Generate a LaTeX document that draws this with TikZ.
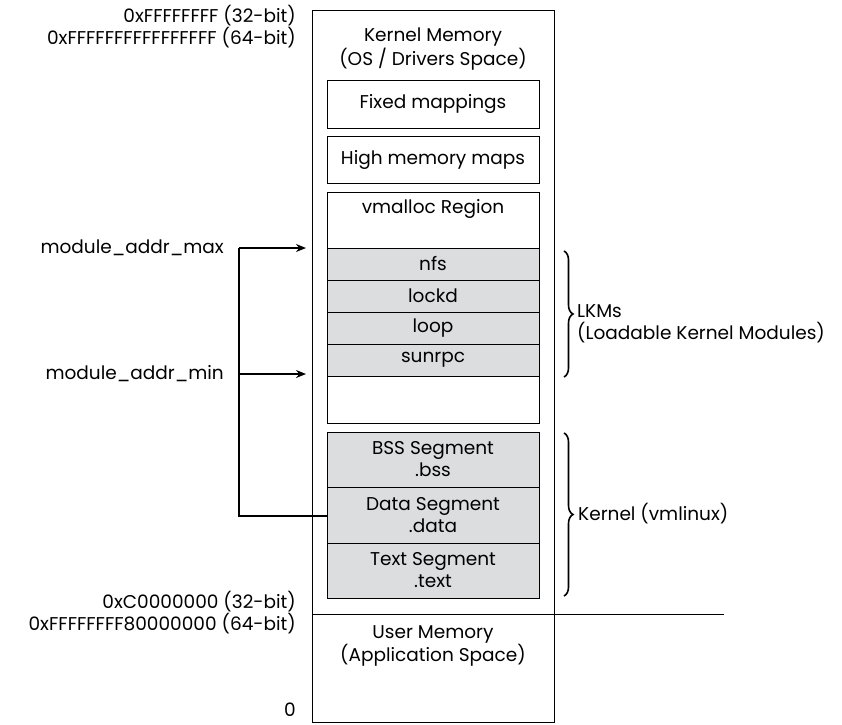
\documentclass[tikz,border=0pt]{standalone}
\usepackage{fontspec}
\setmainfont{Poppins}
\usetikzlibrary{arrows.meta,decorations.pathreplacing}
\definecolor{segfill}{RGB}{220,221,222}
\begin{document}
\begin{tikzpicture}[x=1pt,y=-1pt,
  font=\fontsize{18.5}{22}\selectfont,
  box/.style={draw, line width=0.9pt, anchor=north west, inner sep=0pt, outer sep=0pt},
  seg/.style={box, fill=segfill, minimum width=212pt, align=center},
  lbl/.style={anchor=east, inner sep=0pt, align=right},
  ptr/.style={line width=1.6pt, -{Stealth[length=10pt,width=8pt]}},
  brc/.style={line width=1.6pt, decorate, decoration={brace, amplitude=9pt}}]
\useasboundingbox (0,0) rectangle (842,724);
% outer regions
\node[box, minimum width=242pt, minimum height=604pt] (kern) at (312,10) {};
\node[box, minimum width=242pt, minimum height=108pt] (user) at (312,614) {};
\coordinate (divend) at (724,614);
\draw[line width=0.9pt] (kern.south east) -- (divend);
\node[align=center, inner sep=0pt] (ktitle) at (433,49) {Kernel Memory\\(OS / Drivers Space)};
\node[align=center, inner sep=0pt] (utitle) at (433,646) {User Memory\\(Application Space)};
% inner boxes
\node[box, minimum width=212pt, minimum height=48pt] (fixed) at (327,80) {};
\node (fixedt) at (fixed.center) {Fixed mappings};
\node[box, minimum width=212pt, minimum height=47pt] (high) at (327,136) {};
\node (hight) at (high.center) {High memory maps};
\node[box, minimum width=212pt, minimum height=231pt] (vmal) at (327,192) {};
\node (vmalt) at (433,209) {vmalloc Region};
\node[seg, minimum height=32pt] (nfs) at (327,248) {};
\node (nfst) at (nfs.center) {nfs};
\node[seg, minimum height=32pt] (lockd) at (327,280) {};
\node (lockdt) at (lockd.center) {lockd};
\node[seg, minimum height=32pt] (loop) at (327,312) {};
\node (loopt) at (loop.center) {loop};
\node[seg, minimum height=32pt] (sunrpc) at (327,344) {};
\node (sunrpct) at (sunrpc.center) {sunrpc};
\node[seg, minimum height=55pt] (bss) at (327,432) {};
\node[align=center, inner sep=0pt] (bsst) at (bss.center) {BSS Segment\\.bss};
\node[seg, minimum height=56pt] (data) at (327,487) {};
\node[align=center, inner sep=0pt] (datat) at (data.center) {Data Segment\\.data};
\node[seg, minimum height=55pt] (text) at (327,543) {};
\node[align=center, inner sep=0pt] (textt) at (text.center) {Text Segment\\.text};
% address labels
\node[lbl] (top) at (296,27) {0xFFFFFFFF (32-bit)\\0xFFFFFFFFFFFFFFFF (64-bit)};
\node[lbl] (mid) at (296,613) {0xC0000000 (32-bit)\\0xFFFFFFFF80000000 (64-bit)};
\node[lbl] (zero) at (296,710) {0};
\node[lbl] (amax) at (224,248) {module\_addr\_max};
\node[lbl] (amin) at (224,374) {module\_addr\_min};
% pointers
\coordinate (cmax) at (239,248);
\coordinate (cmin) at (239,374);
\coordinate (cbot) at (239,516);
\draw[line width=1.6pt] (cmax) -- (cbot) -- (cbot -| data.west);
\draw[ptr, shorten >=6pt] (cmax) -- (cmax -| kern.west);
\draw[ptr, shorten >=6pt] (cmin) -- (cmin -| kern.west);
% braces
\coordinate (lkm1) at (564,251);
\coordinate (lkm2) at (564,377);
\coordinate (ker1) at (564,433);
\coordinate (ker2) at (564,596);
\draw[brc] (lkm1) -- (lkm2);
\draw[brc] (ker1) -- (ker2);
\node[anchor=west, align=left, inner sep=0pt] (lkmt) at (577,324) {LKMs\\(Loadable Kernel Modules)};
\node[anchor=west, inner sep=0pt] (kert) at (578,514) {Kernel (vmlinux)};
\end{tikzpicture}
\end{document}
